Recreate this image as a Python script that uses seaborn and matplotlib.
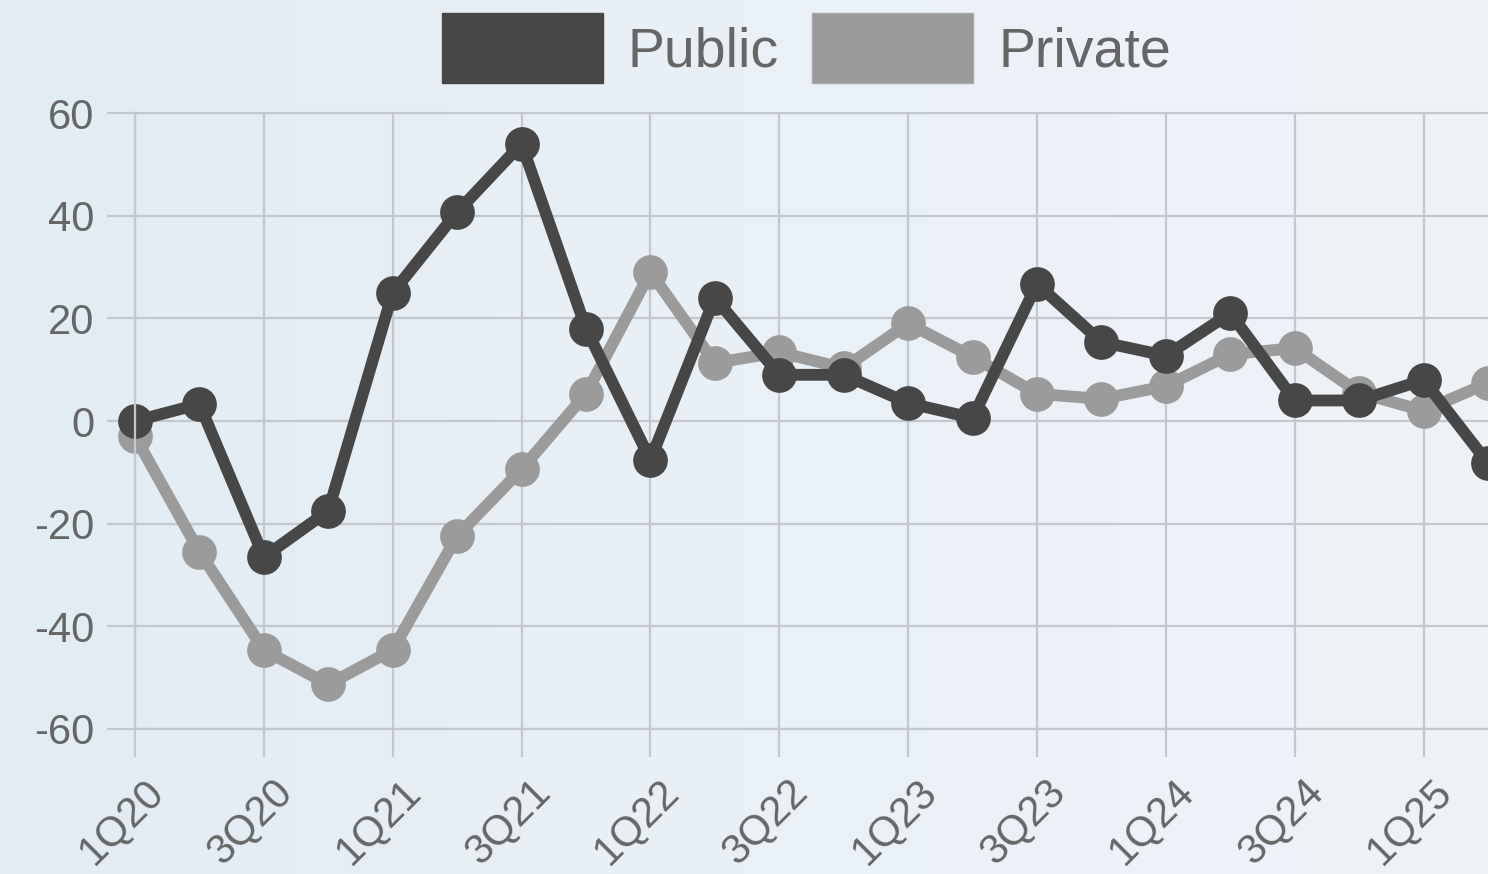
import numpy as np
import pandas as pd
import matplotlib
matplotlib.use("Agg")
import matplotlib.pyplot as plt
import seaborn as sns
from matplotlib.patches import Patch
from matplotlib.transforms import ScaledTranslation

# quarterly values
quarters = ["1Q20", "2Q20", "3Q20", "4Q20", "1Q21", "2Q21", "3Q21", "4Q21",
            "1Q22", "2Q22", "3Q22", "4Q22", "1Q23", "2Q23", "3Q23", "4Q23",
            "1Q24", "2Q24", "3Q24", "4Q24", "1Q25", "2Q25"]
public = [0, 3.3, -26.5, -17.5, 25, 40.7, 54, 18, -7.6, 24, 9, 9,
          3.5, 0.6, 26.7, 15.4, 12.7, 21, 4, 4, 8, -8.2]
private = [-3, -25.5, -44.6, -51.3, -44.6, -22.4, -9.4, 5.3, 29, 11.3, 13.4, 10.3,
           19, 12.5, 5.3, 4.3, 6.8, 13, 14.2, 5.5, 2, 7.4]
series_names = ["Public", "Private"]
series_colors = {"Public": "#474747", "Private": "#9b9b9b"}
y_ticks = [-60, -40, -20, 0, 20, 40, 60]

# mise en forme longue pour seaborn
df = pd.concat([
    pd.DataFrame({"idx": range(len(quarters)), "quarter": quarters, "value": public, "series": "Public"}),
    pd.DataFrame({"idx": range(len(quarters)), "quarter": quarters, "value": private, "series": "Private"}),
])

sns.set_theme(style="white")
plt.rcParams['font.family'] = ['Liberation Sans', 'DejaVu Sans']
plt.rcParams['axes.unicode_minus'] = False

fig = plt.figure(figsize=(14.88, 8.74), dpi=100)

# fond dégradé léger
bg = fig.add_axes([0, 0, 1, 1], zorder=-1)
grad = np.linspace(0, 1, 256).reshape(1, -1)
bg.imshow(grad, aspect="auto", extent=[0, 1, 0, 1],
          cmap=matplotlib.colors.LinearSegmentedColormap.from_list("bg", ["#e2ecf3", "#eaf1f6", "#eef3f8"]))
bg.axis("off")

ax = fig.add_axes([135 / 1488, 1 - 729 / 874, 1 - 135 / 1488, (729 - 113) / 874])
ax.patch.set_alpha(0)

grid_c = "#c3c8ce"
sns.lineplot(data=df, x="idx", y="value", hue="series", hue_order=["Private", "Public"],
             palette=series_colors, marker="o", markersize=25, markeredgewidth=0,
             linewidth=8.5, legend=False, ax=ax)
for line in ax.lines:
    line.set_clip_on(False)

ax.set_xlim(0, len(quarters) - 1)
ax.set_ylim(-60, 60)
ax.set_xlabel("")
ax.set_ylabel("")
ax.set_xticks(range(0, len(quarters), 2))
ax.set_xticklabels(quarters[::2], rotation=45, ha="right", va="center", rotation_mode="anchor")
ax.set_yticks(y_ticks)
ax.grid(True, color=grid_c, linewidth=1.6)
ax.tick_params(bottom=True, left=True, length=20, width=1.6, color=grid_c,
               labelsize=30, labelcolor="#666666")
ax.tick_params(axis="x", pad=21)
ax.tick_params(axis="y", pad=9)
for lbl in ax.get_xticklabels():
    lbl.set_transform(lbl.get_transform() + ScaledTranslation(16 / 72, 0, fig.dpi_scale_trans))

for side in ["left", "bottom", "top"]:
    ax.spines[side].set_color(grid_c)
    ax.spines[side].set_linewidth(1.6)
ax.spines["right"].set_visible(False)

handles = [Patch(facecolor=series_colors[n], edgecolor="#a8a8a8" if n == "Private" else series_colors[n],
                 label=n) for n in series_names]
fig.legend(handles=handles, loc="center", bbox_to_anchor=(0.542, 0.945), ncol=2, frameon=False,
           fontsize=40, handlelength=2.9, handleheight=1.55, handletextpad=0.45,
           columnspacing=0.6, labelcolor="#666666")

fig.savefig("out.png", dpi=100)
